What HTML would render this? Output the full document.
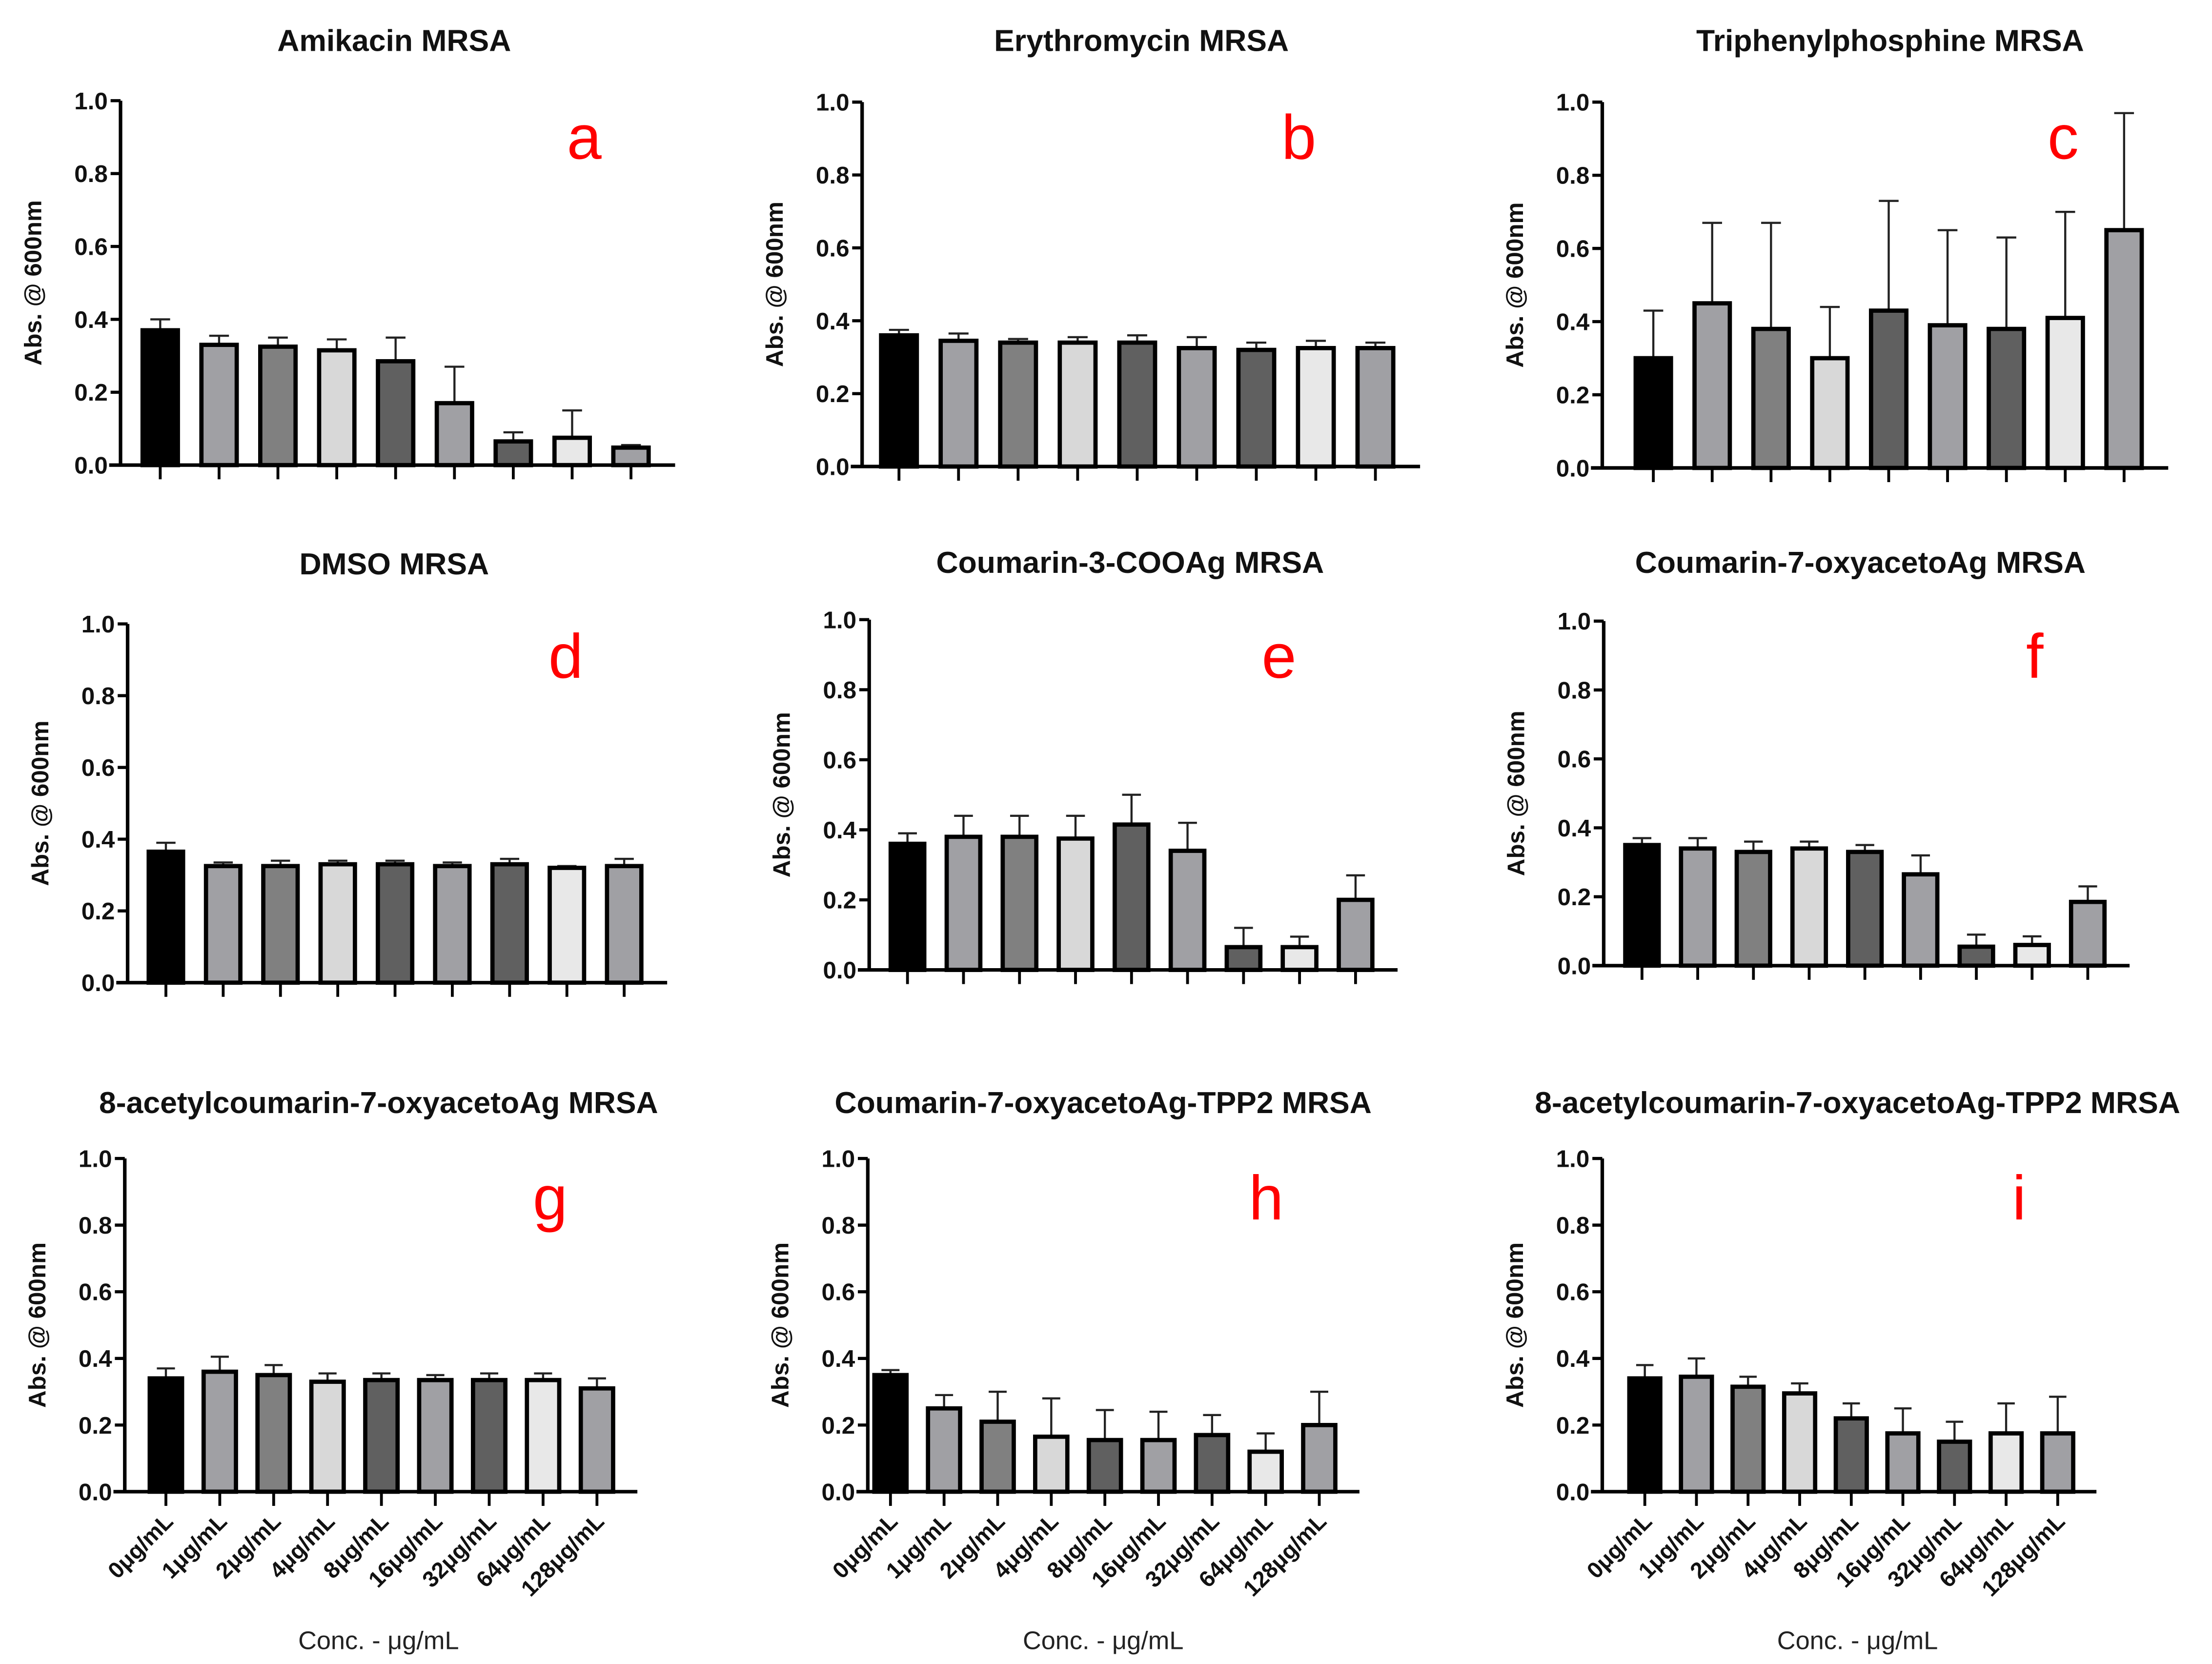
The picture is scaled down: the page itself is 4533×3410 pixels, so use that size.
<!DOCTYPE html>
<html><head><meta charset="utf-8"><style>
html,body{margin:0;padding:0;background:#fff;}
svg{display:block;}
text{font-family:"Liberation Sans",Arial,sans-serif;}
</style></head><body>
<svg id="fig" xmlns="http://www.w3.org/2000/svg" width="4533" height="3410" viewBox="0 0 1560 1173.5"></svg>
<script>
const categories = ["0μg/mL","1μg/mL","2μg/mL","4μg/mL","8μg/mL","16μg/mL","32μg/mL","64μg/mL","128μg/mL"];
const yTicks = [0,0.2,0.4,0.6,0.8,1.0];
const titles = ["Amikacin MRSA","Erythromycin MRSA","Triphenylphosphine MRSA","DMSO MRSA","Coumarin-3-COOAg MRSA","Coumarin-7-oxyacetoAg MRSA","8-acetylcoumarin-7-oxyacetoAg MRSA","Coumarin-7-oxyacetoAg-TPP2 MRSA","8-acetylcoumarin-7-oxyacetoAg-TPP2 MRSA"];
const letters = ["a","b","c","d","e","f","g","h","i"];
const meanA = [0.37,0.33,0.325,0.315,0.285,0.17,0.065,0.075,0.048];
const errA  = [0.40,0.355,0.35,0.345,0.35,0.27,0.09,0.15,0.055];
const meanB = [0.36,0.345,0.34,0.34,0.34,0.325,0.32,0.325,0.325];
const errB  = [0.375,0.365,0.35,0.355,0.36,0.355,0.34,0.345,0.34];
const meanC = [0.30,0.45,0.38,0.30,0.43,0.39,0.38,0.41,0.65];
const errC  = [0.43,0.67,0.67,0.44,0.73,0.65,0.63,0.70,0.97];
const meanD = [0.365,0.325,0.325,0.33,0.33,0.325,0.33,0.32,0.325];
const errD  = [0.39,0.335,0.34,0.34,0.34,0.335,0.345,0.325,0.345];
const meanE = [0.36,0.38,0.38,0.375,0.415,0.34,0.065,0.065,0.20];
const errE  = [0.39,0.44,0.44,0.44,0.50,0.42,0.12,0.095,0.27];
const meanF = [0.35,0.34,0.33,0.34,0.33,0.265,0.055,0.06,0.185];
const errF  = [0.37,0.37,0.36,0.36,0.35,0.32,0.09,0.085,0.23];
const meanG = [0.34,0.36,0.35,0.33,0.335,0.335,0.335,0.335,0.31];
const errG  = [0.37,0.405,0.38,0.355,0.355,0.35,0.355,0.355,0.34];
const meanH = [0.35,0.25,0.21,0.165,0.155,0.155,0.17,0.12,0.20];
const errH  = [0.365,0.29,0.30,0.28,0.245,0.24,0.23,0.175,0.30];
const meanI = [0.34,0.345,0.315,0.295,0.22,0.175,0.15,0.175,0.175];
const errI  = [0.38,0.40,0.345,0.325,0.265,0.25,0.21,0.265,0.285];
const means = [meanA,meanB,meanC,meanD,meanE,meanF,meanG,meanH,meanI];
const errs = [errA,errB,errC,errD,errE,errF,errG,errH,errI];

const fills = ["#000","#a0a0a4","#808080","#d8d8d8","#606060","#a0a0a4","#606060","#e8e8e8","#a0a0a4"];
const L = [
 {ax:85,yt:71,y0:328,b0:113,sp:41.5,tx:278,ty:36,lx:412,ly:112},
 {ax:608,yt:72,y0:329,b0:634,sp:42,tx:805,ty:36,lx:916,ly:112},
 {ax:1130,yt:72,y0:330,b0:1166,sp:41.5,tx:1333,ty:36,lx:1455,ly:112},
 {ax:90,yt:440,y0:693,b0:117,sp:40.4,tx:278,ty:405,lx:399,ly:478},
 {ax:613,yt:437,y0:684,b0:640,sp:39.5,tx:797,ty:404,lx:902,ly:478},
 {ax:1131,yt:438,y0:681,b0:1158,sp:39.3,tx:1312,ty:404,lx:1435,ly:478},
 {ax:88,yt:817,y0:1052,b0:117,sp:38,tx:267,ty:785,lx:388,ly:860},
 {ax:612,yt:817,y0:1052,b0:628,sp:37.8,tx:778,ty:785,lx:893,ly:860},
 {ax:1130,yt:817,y0:1052,b0:1160,sp:36.4,tx:1310,ty:785,lx:1424,ly:860}
];
const NS="http://www.w3.org/2000/svg";
const svg=document.getElementById('fig');
function mk(tag,attrs,parent){const e=document.createElementNS(NS,tag);for(const k in attrs)e.setAttribute(k,attrs[k]);(parent||svg).appendChild(e);return e;}
for(let p=0;p<9;p++){
  const c=L[p];
  const g=mk('g',{});
  
  
  const yS=v=>c.y0-(c.y0-c.yt)*v;
  const xS=i=>c.b0+c.sp*i;
  const bw=c.sp*0.6;
  const t=mk('text',{x:c.tx,y:c.ty,'text-anchor':'middle','font-size':21.5,'font-weight':'bold',fill:'#111'},g);
  t.textContent=titles[p];
  
  
  const lt=mk('text',{x:c.lx,y:c.ly,'text-anchor':'middle','font-size':44,fill:'#ff0000','font-family':(p==6?'"Liberation Serif",serif':'"Liberation Sans",sans-serif')},g);
  lt.textContent=letters[p];
  
  
  const yl=mk('text',{x:0,y:0,'text-anchor':'middle','font-size':17,'font-weight':'bold',fill:'#111',transform:`translate(${c.ax-56},${(c.yt+c.y0)/2}) rotate(-90)`},g);
  yl.textContent="Abs. @ 600nm";
  
  
  yTicks.forEach(v=>{
    const y=yS(v);
    const tk=mk('line',{x1:c.ax-7,x2:c.ax,y1:y,y2:y,stroke:'#000','stroke-width':2.2},g);
    
    
    const tl=mk('text',{x:c.ax-9,y:y+6,'text-anchor':'end','font-size':17,'font-weight':'bold',fill:'#111'},g);
    tl.textContent=v.toFixed(1);
    
    
  });
  const xEnd=xS(8)+c.sp*0.75;
  means[p].forEach((m,i)=>{
    const x=xS(i);
    const el=mk('line',{x1:x,x2:x,y1:yS(m),y2:yS(errs[p][i]),stroke:'#222','stroke-width':1.5},g);
    
    
    const cap=mk('line',{x1:x-bw*0.28,x2:x+bw*0.28,y1:yS(errs[p][i]),y2:yS(errs[p][i]),stroke:'#222','stroke-width':1.5},g);
    
    
    const r=mk('rect',{x:x-bw/2,y:yS(m),width:bw,height:c.y0-yS(m),fill:fills[i],stroke:'#000','stroke-width':3},g);
    
    
    const xt=mk('line',{x1:x,x2:x,y1:c.y0,y2:c.y0+10,stroke:'#000','stroke-width':2},g);
    
    
    if(p>=6){
      const xl=mk('text',{x:0,y:0,'text-anchor':'end','font-size':16,'font-weight':'bold',fill:'#111',transform:`translate(${x+6},${c.y0+22}) rotate(-45)`},g);
      xl.textContent=categories[i];
      
      
    }
  });
  mk('line',{x1:c.ax,x2:c.ax,y1:c.yt,y2:c.y0,stroke:'#000','stroke-width':2.5},g);
  const xa=mk('line',{x1:c.ax-8,x2:xEnd,y1:c.y0,y2:c.y0,stroke:'#000','stroke-width':2.5},g);
  
  
  if(p>=6){
    const xt=mk('text',{x:c.tx,y:1163,'text-anchor':'middle','font-size':18,fill:'#222'},g);
    xt.textContent="Conc.  - μg/mL";
    
    
  }
}
</script>
</body></html>
